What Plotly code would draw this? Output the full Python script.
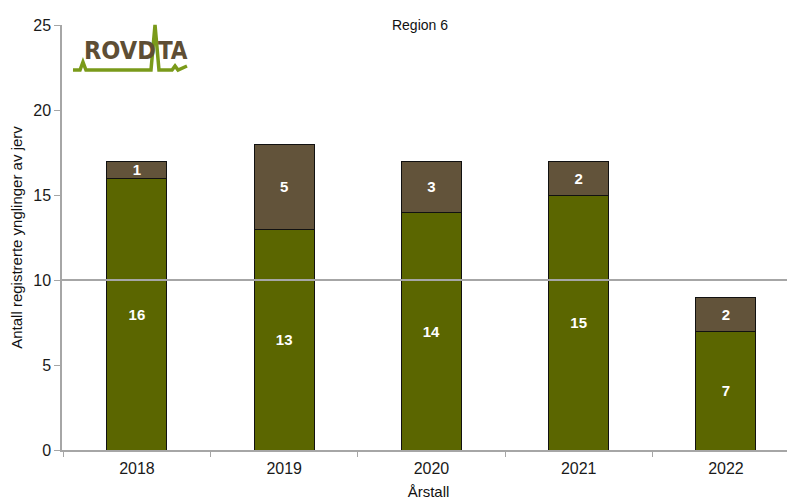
import plotly.graph_objects as go

years = ["2018", "2019", "2020", "2021", "2022"]
lower_vals = [16, 13, 14, 15, 7]
upper_vals = [1, 5, 3, 2, 2]
title_text = "Region 6"
y_title = "Antall registrerte ynglinger av jerv"
x_title = "Årstall"

GREEN = "#5b6600"
BROWN = "#62533a"
OFF = 8  # page body margin
W, H = 795 - OFF, 500 - OFF
L, R, T, B = 62 - OFF, 0, 25 - OFF, 50
PW, PH = W - L - R, H - T - B

def px2paper(px, py):
    # px, py: screenshot pixel coordinates
    return (px - OFF - L) / PW, (H - B - (py - OFF)) / PH

fig = go.Figure()
for vals, col in [(lower_vals, GREEN), (upper_vals, BROWN)]:
    fig.add_trace(go.Bar(x=years, y=vals, marker=dict(color=col, line=dict(color="#111111", width=1)),
                         text=vals, texttemplate="<b>%{text}</b>", textposition="inside",
                         insidetextanchor="middle", constraintext="none", textangle=0,
                         textfont=dict(color="white", size=15, family="Liberation Sans, Arial"), width=0.407))

fig.add_shape(type="line", xref="paper", yref="y", x0=0, x1=1, y0=10, y1=10,
              line=dict(color="#a6a6a6", width=2), layer="above")

# logo
pts = [(73, 70), (80, 70), (83, 62), (86, 70), (151, 70), (155, 25), (159, 70),
       (172, 70), (175, 66), (178, 70), (187, 66)]
pp = [px2paper(a, b) for a, b in pts]
path = "M " + " L ".join(f"{a:.4f},{b:.4f}" for a, b in pp)
fig.add_shape(type="path", xref="paper", yref="paper", path=path,
              line=dict(color="#7a9a1a", width=3.5), layer="above")
for txt, cx, sz in [("ROVD", 120, 25), ("TA", 173, 24)]:
    ax, ay = px2paper(cx, 51)
    fig.add_annotation(x=ax, y=ay, xref="paper", yref="paper", text=f"<b>{txt}</b>", showarrow=False,
                       xanchor="center", yanchor="middle",
                       font=dict(family="DejaVu Sans Condensed", size=sz, color="#5e4e34"))

fig.update_layout(
    barmode="stack", width=W, height=H, showlegend=False,
    margin=dict(l=L, r=R, t=T, b=B, autoexpand=False),
    plot_bgcolor="white", paper_bgcolor="white",
    font=dict(family="Liberation Sans, Arial", color="#222222"),
    title=dict(text=title_text, x=(420 - OFF) / W, xanchor="center", y=1 - (25 - OFF) / H, yanchor="middle",
               font=dict(size=14, color="#111111")),
    bargap=0.59,
)
fig.update_yaxes(range=[0, 25], dtick=5, showgrid=False, zeroline=False, showline=True, linecolor="#a6a6a6",
                 linewidth=1.5, ticks="outside", tickcolor="#a6a6a6", ticklen=6, automargin=False,
                 tickfont=dict(size=16, color="#1a1a1a"),
                 title=dict(text=y_title, font=dict(size=15, color="#111111"), standoff=8))
fig.update_xaxes(range=[-0.509, 4.469], showgrid=False, showline=True, linecolor="#a6a6a6", linewidth=1.5,
                 ticks="outside", tickson="boundaries", tickcolor="#a6a6a6", ticklen=5, automargin=False,
                 tickfont=dict(size=16, color="#1a1a1a"), ticklabelstandoff=3,
                 title=dict(text=x_title, font=dict(size=15, color="#111111"), standoff=12))
fig.write_html("out.html")
